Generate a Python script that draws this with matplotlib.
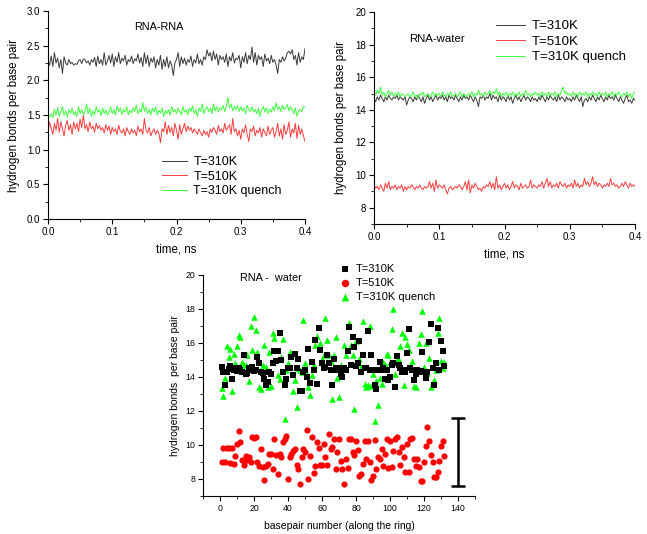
import numpy as np
import matplotlib
matplotlib.use("Agg")
import matplotlib.pyplot as plt
from matplotlib.ticker import MultipleLocator

plt.rcParams['font.family'] = ['Liberation Sans', 'DejaVu Sans']

# ---------------- data ----------------
time_ns = np.linspace(0.0, 0.4, 161)

rr_310 = [2.28, 2.22, 2.35, 2.20, 2.40, 2.25, 2.32, 2.18, 2.30, 2.10, 2.34, 2.25, 2.22, 2.30, 2.24, 2.26, 2.22, 2.24, 2.23, 2.28,
          2.30, 2.24, 2.31, 2.30, 2.25, 2.28, 2.22, 2.30, 2.26, 2.33, 2.20, 2.35, 2.24, 2.30, 2.22, 2.40, 2.22, 2.28, 2.36, 2.25,
          2.38, 2.20, 2.34, 2.26, 2.40, 2.24, 2.32, 2.28, 2.36, 2.22, 2.30, 2.27, 2.35, 2.24, 2.31, 2.28, 2.38, 2.25, 2.33, 2.20,
          2.40, 2.24, 2.36, 2.20, 2.32, 2.26, 2.34, 2.18, 2.30, 2.22, 2.36, 2.16, 2.30, 2.20, 2.34, 2.18, 2.28, 2.22, 2.07, 2.25,
          2.30, 2.40, 2.20, 2.34, 2.24, 2.32, 2.22, 2.30, 2.26, 2.35, 2.20, 2.30, 2.25, 2.38, 2.24, 2.30, 2.22, 2.34, 2.30, 2.44,
          2.35, 2.40, 2.28, 2.42, 2.30, 2.38, 2.22, 2.36, 2.30, 2.34, 2.26, 2.38, 2.20, 2.34, 2.28, 2.40, 2.25, 2.32, 2.30, 2.36,
          2.18, 2.34, 2.26, 2.40, 2.24, 2.36, 2.30, 2.48, 2.26, 2.40, 2.22, 2.36, 2.30, 2.34, 2.20, 2.38, 2.28, 2.32, 2.24, 2.36,
          2.26, 2.30, 2.22, 2.10, 2.30, 2.26, 2.34, 2.28, 2.32, 2.40, 2.42, 2.38, 2.44, 2.30, 2.36, 2.22, 2.40, 2.26, 2.34, 2.30, 2.46]

rr_510 = [1.25, 1.40, 1.30, 1.22, 1.38, 1.28, 1.45, 1.25, 1.40, 1.30, 1.20, 1.35, 1.42, 1.28, 1.36, 1.22, 1.40, 1.30, 1.38, 1.26,
          1.44, 1.32, 1.50, 1.30, 1.36, 1.26, 1.40, 1.30, 1.34, 1.25, 1.38, 1.30, 1.35, 1.28, 1.32, 1.24, 1.36, 1.28, 1.34, 1.22,
          1.32, 1.26, 1.30, 1.22, 1.35, 1.27, 1.24, 1.30, 1.20, 1.32, 1.26, 1.22, 1.30, 1.24, 1.28, 1.20, 1.34, 1.26, 1.30, 1.22,
          1.45, 1.28, 1.24, 1.32, 1.20, 1.26, 1.30, 1.22, 1.28, 1.24, 1.10, 1.30, 1.26, 1.40, 1.22, 1.35, 1.25, 1.32, 1.20, 1.38,
          1.28, 1.15, 1.36, 1.22, 1.30, 1.38, 1.26, 1.34, 1.28, 1.32, 1.24, 1.30, 1.26, 1.22, 1.30, 1.24, 1.20, 1.28, 1.22, 1.26,
          1.18, 1.30, 1.25, 1.32, 1.28, 1.22, 1.35, 1.26, 1.30, 1.24, 1.38, 1.28, 1.32, 1.36, 1.22, 1.45, 1.26, 1.30, 1.20, 1.28,
          1.15, 1.30, 1.24, 1.36, 1.22, 1.12, 1.30, 1.26, 1.34, 1.20, 1.28, 1.24, 1.32, 1.18, 1.30, 1.25, 1.20, 1.34, 1.22, 1.28,
          1.32, 1.18, 1.26, 1.38, 1.20, 1.30, 1.15, 1.36, 1.22, 1.28, 1.40, 1.18, 1.30, 1.24, 1.38, 1.16, 1.35, 1.22, 1.30, 1.20, 1.12]

rr_310q = [1.45, 1.48, 1.52, 1.46, 1.58, 1.50, 1.60, 1.48, 1.55, 1.62, 1.50, 1.56, 1.47, 1.58, 1.52, 1.60, 1.50, 1.55, 1.48, 1.62,
           1.52, 1.58, 1.50, 1.55, 1.66, 1.52, 1.60, 1.48, 1.56, 1.50, 1.62, 1.54, 1.58, 1.49, 1.60, 1.52, 1.57, 1.50, 1.55, 1.62,
           1.52, 1.58, 1.50, 1.63, 1.55, 1.60, 1.51, 1.58, 1.54, 1.62, 1.50, 1.57, 1.53, 1.60, 1.55, 1.64, 1.52, 1.58, 1.54, 1.68,
           1.55, 1.62, 1.52, 1.58, 1.50, 1.60, 1.54, 1.62, 1.50, 1.57, 1.53, 1.60, 1.48, 1.56, 1.52, 1.58, 1.50, 1.62, 1.54, 1.58,
           1.52, 1.60, 1.55, 1.50, 1.62, 1.54, 1.58, 1.50, 1.60, 1.55, 1.63, 1.52, 1.58, 1.48, 1.60, 1.55, 1.66, 1.52, 1.58, 1.62,
           1.55, 1.60, 1.52, 1.66, 1.56, 1.62, 1.54, 1.60, 1.58, 1.64, 1.55, 1.62, 1.75, 1.60, 1.66, 1.56, 1.62, 1.58, 1.64, 1.55,
           1.62, 1.56, 1.60, 1.52, 1.64, 1.58, 1.55, 1.62, 1.54, 1.58, 1.52, 1.60, 1.48, 1.58, 1.62, 1.55, 1.60, 1.52, 1.58, 1.54,
           1.62, 1.56, 1.68, 1.58, 1.62, 1.55, 1.64, 1.58, 1.60, 1.65, 1.56, 1.62, 1.58, 1.52, 1.60, 1.48, 1.56, 1.58, 1.55, 1.62, 1.61]

rw_310 = [14.7, 14.5, 14.8, 14.6, 14.9, 14.7, 14.5, 14.8, 14.6, 14.9, 14.7, 14.6, 14.8, 14.7, 14.9, 14.6, 14.8, 14.7, 14.6, 14.8,
          14.3, 14.6, 14.8, 14.7, 14.5, 14.8, 14.6, 14.9, 14.7, 14.5, 14.8, 14.4, 14.7, 14.9, 14.6, 14.8, 14.5, 14.7, 14.9, 14.6,
          14.8, 14.7, 14.9, 14.6, 14.8, 14.5, 14.9, 14.7, 14.8, 14.6, 14.9, 14.7, 14.5, 14.8, 14.6, 14.9, 14.7, 14.8, 14.6, 14.9,
          14.7, 14.5, 14.8, 14.6, 14.2, 14.8, 14.7, 14.9, 14.6, 14.8, 14.7, 15.0, 14.6, 14.9, 14.7, 14.8, 14.5, 14.9, 14.6, 14.8,
          14.7, 14.5, 14.9, 14.6, 14.8, 14.4, 14.7, 14.9, 14.6, 14.8, 14.5, 14.7, 14.9, 14.6, 14.8, 14.7, 14.5, 14.8, 14.6, 14.7,
          14.5, 14.8, 14.6, 14.9, 14.7, 14.5, 14.8, 14.6, 14.9, 14.7, 14.6, 14.8, 14.5, 14.9, 14.6, 14.8, 14.7, 14.5, 14.8, 14.6,
          14.7, 14.5, 14.8, 14.6, 14.9, 14.7, 14.5, 14.8, 14.2, 14.6, 14.7, 14.5, 14.8, 14.6, 14.9, 14.7, 14.5, 14.8, 14.6, 14.9,
          14.7, 14.5, 14.8, 14.6, 14.9, 14.7, 14.8, 14.6, 14.9, 14.7, 14.5, 14.8, 14.6, 14.4, 14.7, 14.9, 14.5, 14.6, 14.4, 14.7, 14.6]

rw_510 = [9.4, 9.2, 9.3, 9.1, 9.4, 9.2, 9.0, 9.5, 9.2, 9.6, 9.1, 9.3, 9.2, 9.4, 9.1, 9.3, 9.2, 9.4, 9.0, 9.3,
          9.1, 9.3, 9.2, 9.4, 9.3, 9.1, 9.3, 9.2, 9.4, 9.2, 9.1, 9.3, 9.2, 9.3, 9.6, 9.2, 9.5, 9.0, 9.7, 9.2,
          9.4, 9.3, 9.2, 9.4, 9.1, 8.85, 9.2, 9.3, 9.1, 9.2, 9.3, 9.2, 9.4, 9.3, 9.1, 9.3, 9.6, 9.1, 9.7, 8.9,
          9.4, 9.2, 9.5, 9.3, 9.1, 9.2, 9.0, 9.3, 9.2, 9.4, 9.3, 9.6, 9.2, 9.5, 9.1, 9.9, 9.2, 9.4, 9.1, 9.3,
          9.5, 9.2, 9.4, 9.1, 9.3, 9.6, 9.2, 9.4, 9.3, 9.1, 9.5, 9.2, 9.3, 9.4, 9.2, 9.3, 9.7, 9.2, 9.4, 9.3,
          9.2, 9.4, 9.3, 9.6, 9.2, 9.5, 9.8, 9.3, 9.6, 9.2, 9.4, 9.3, 9.5, 9.2, 9.6, 9.4, 9.3, 9.5, 9.2, 9.4,
          9.3, 9.5, 9.2, 9.7, 9.3, 9.5, 9.2, 9.4, 9.3, 9.8, 9.4, 9.6, 9.3, 9.5, 9.9, 9.4, 9.6, 9.3, 9.5, 9.4,
          9.2, 9.4, 9.3, 9.5, 9.3, 9.8, 9.4, 9.5, 9.3, 9.4, 9.2, 9.3, 9.5, 9.3, 9.6, 9.4, 9.2, 9.5, 9.3, 9.4, 9.3]

rw_310q = [15.1, 14.9, 15.2, 15.0, 15.4, 14.9, 15.1, 14.8, 15.0, 15.2, 14.9, 15.1, 14.8, 15.0, 14.9, 15.1, 14.8, 15.0, 14.9, 14.8,
           14.9, 15.0, 14.8, 14.9, 15.1, 14.8, 14.9, 14.7, 15.0, 14.9, 15.1, 14.8, 14.9, 15.0, 14.8, 14.9, 15.1, 14.8, 15.0, 14.9,
           15.0, 14.8, 15.1, 14.9, 14.8, 15.0, 14.9, 15.1, 14.8, 14.9, 15.0, 14.8, 14.9, 15.1, 14.8, 15.0, 14.9, 14.8, 15.0, 14.9,
           15.1, 14.8, 15.0, 14.9, 15.2, 14.9, 15.0, 14.8, 15.1, 14.9, 15.0, 15.2, 14.9, 15.1, 15.0, 15.3, 14.9, 15.1, 14.8, 15.0,
           14.9, 15.1, 14.8, 15.0, 14.9, 15.1, 14.8, 15.0, 14.9, 15.1, 14.8, 15.0, 14.9, 15.2, 14.9, 15.0, 14.8, 15.0, 14.9, 15.1,
           14.9, 15.0, 14.8, 15.1, 14.9, 15.0, 14.8, 15.1, 14.9, 15.0, 14.9, 15.1, 14.8, 15.0, 14.9, 15.2, 15.4, 15.0, 15.1, 14.9,
           15.0, 14.8, 15.1, 14.9, 15.0, 14.8, 15.1, 14.9, 15.0, 14.9, 15.1, 14.8, 15.0, 14.9, 15.1, 14.9, 15.0, 14.8, 15.1, 14.9,
           15.0, 14.9, 15.1, 14.8, 15.0, 14.9, 15.1, 14.8, 15.0, 14.9, 15.1, 14.9, 14.8, 15.0, 14.9, 15.1, 14.8, 15.0, 14.7, 15.0, 15.1]

basepair = np.arange(1, 133)

bp_310 = [14.6, 14.3, 13.5, 14.3, 14.45, 14.65, 13.86, 14.4, 14.5, 14.35,
          14.5, 14.4, 14.3, 15.28, 14.2, 14.26, 14.5, 14.4, 14.6, 14.33,
          14.4, 15.18, 14.8, 14.3, 14.25, 13.86, 13.5, 13.7, 14.3, 14.2,
          14.8, 15.5, 14.95, 15.5, 16.56, 15.0, 14.3, 13.5, 13.9, 14.5,
          14.5, 15.18, 14.13, 15.38, 14.5, 15.08, 13.2, 13.2, 14.3, 14.4,
          14.0, 15.67, 13.64, 14.9, 14.4, 16.2, 13.6, 16.9, 15.57, 14.8,
          14.5, 14.6, 15.28, 14.8, 14.43, 13.5, 15.08, 14.5, 14.4, 14.53,
          14.2, 14.0, 14.5, 14.4, 15.5, 16.95, 14.7, 16.36, 15.77, 14.63,
          14.85, 16.1, 14.3, 15.32, 14.5, 14.5, 16.7, 14.4, 15.32, 14.4,
          13.55, 13.27, 14.4, 14.9, 14.4, 14.53, 13.9, 14.43, 13.8, 14.0,
          14.7, 14.8, 13.4, 15.22, 14.7, 14.5, 14.3, 14.4, 14.3, 15.42,
          16.8, 14.5, 14.4, 13.8, 14.2, 14.4, 14.3, 14.33, 15.48, 14.3,
          13.94, 14.3, 16.03, 17.1, 14.5, 13.5, 14.8, 16.9, 14.43, 16.1, 15.5, 14.65]

bp_510 = [8.98, 9.81, 9.02, 9.81, 9.81, 8.94, 9.81, 8.88, 9.38, 10.06,
          10.8, 10.16, 9.14, 8.83, 9.38, 9.14, 9.28, 8.98, 10.46, 10.4,
          10.46, 8.98, 8.75, 9.77, 8.69, 7.96, 8.79, 8.88, 9.48, 9.48,
          8.59, 10.36, 9.42, 8.3, 9.48, 9.32, 10.16, 10.36, 10.52, 8.0,
          9.32, 9.48, 9.67, 9.77, 8.83, 8.59, 7.7, 9.28, 9.77, 9.57,
          10.91, 8.0, 9.38, 10.46, 8.35, 8.79, 10.16, 9.81, 8.83, 8.83,
          10.06, 9.28, 8.83, 10.65, 9.77, 9.87, 10.36, 8.59, 9.57, 10.36,
          9.08, 8.59, 7.7, 9.18, 8.63, 10.36, 10.36, 9.57, 9.42, 10.26,
          9.71, 8.2, 8.3, 8.88, 10.26, 9.18, 10.26, 9.02, 7.96, 8.2,
          10.3, 8.59, 9.28, 9.18, 9.77, 8.79, 9.48, 10.36, 8.63, 10.26,
          8.69, 9.67, 10.36, 10.46, 9.61, 8.83, 9.87, 9.28, 8.43, 10.06,
          8.39, 10.36, 10.4, 9.18, 8.79, 9.18, 8.69, 7.9, 7.9, 8.98,
          9.96, 11.04, 10.26, 9.42, 8.98, 8.1, 8.1, 8.43, 9.08, 9.96, 10.26, 9.38]

bp_310q = [13.35, 12.9, 13.95, 15.83, 15.18, 15.63, 13.2, 15.38, 14.8, 15.83,
           16.46, 16.36, 14.9, 14.7, 14.7, 15.28, 13.74, 16.99, 15.57, 17.5,
           16.75, 15.48, 13.41, 13.31, 14.7, 15.9, 14.6, 13.41, 15.48, 13.45,
           16.6, 16.3, 15.57, 14.1, 13.86, 15.2, 16.26, 11.54, 14.4, 14.8,
           15.48, 15.38, 13.2, 13.8, 12.23, 14.53, 14.4, 14.3, 17.38, 14.85,
           14.2, 13.41, 12.96, 14.1, 14.7, 15.9, 16.4, 15.7, 16.0, 15.08,
           15.28, 17.48, 16.16, 15.32, 14.92, 12.68, 15.28, 16.36, 13.95, 12.82,
           14.7, 14.5, 15.9, 15.28, 17.05, 17.2, 15.87, 15.28, 12.13, 16.1,
           14.8, 15.08, 14.6, 17.29, 13.6, 13.4, 13.55, 17.0, 13.45, 14.2,
           11.44, 13.74, 12.33, 13.95, 13.6, 14.9, 14.7, 15.38, 15.28, 14.9,
           16.8, 17.99, 14.2, 15.08, 14.98, 15.83, 16.56, 13.55, 16.36, 15.97,
           15.57, 14.6, 14.92, 13.47, 13.41, 14.4, 16.0, 16.5, 17.88, 14.6,
           16.0, 14.26, 15.12, 13.41, 13.7, 13.8, 14.4, 16.6, 17.48, 14.92, 14.5, 14.9]

err_x = 140
err_center = 9.57
err_half = 2.0

labels = ['T=310K', 'T=510K', 'T=310K quench']
line_colors = ['#3a3a3a', '#ff3c3c', '#3cff3c']
ylab = 'hydrogen bonds per base pair'

# ---------------- figure ----------------
W, H = 647, 534
fig = plt.figure(figsize=(W / 100, H / 100), dpi=100)


def px_axes(l, r, t, b):
    return fig.add_axes([l / W, 1 - b / H, (r - l) / W, (b - t) / H])


def style(ax, fs=7.0):
    for s in ['top', 'right']:
        ax.spines[s].set_visible(False)
    for s in ['left', 'bottom']:
        ax.spines[s].set_linewidth(0.8)
    ax.tick_params(which='major', direction='out', length=3.5, width=0.8, labelsize=fs, pad=2)
    ax.tick_params(which='minor', direction='out', length=2, width=0.6)


# Top-left: RNA-RNA
ax1 = px_axes(48, 305, 11, 219)
for y, c, lab in zip([rr_310, rr_510, rr_310q], line_colors, labels):
    ax1.plot(time_ns, y, color=c, lw=0.7, label=lab)
ax1.set_xlim(0, 0.4)
ax1.set_ylim(0, 3.0)
ax1.xaxis.set_major_locator(MultipleLocator(0.1))
ax1.xaxis.set_minor_locator(MultipleLocator(0.05))
ax1.yaxis.set_major_locator(MultipleLocator(0.5))
ax1.yaxis.set_minor_locator(MultipleLocator(0.25))
style(ax1)
ax1.set_xlabel('time, ns', fontsize=8.3, labelpad=5)
ax1.set_ylabel(ylab, fontsize=8.3, labelpad=5)
ax1.text(159 / W, 1 - 27 / H, 'RNA-RNA', transform=fig.transFigure, fontsize=7.8,
         ha='center', va='center')
ax1.legend(loc='upper left', bbox_to_anchor=(162 / W, 1 - 156 / H), bbox_transform=fig.transFigure,
           frameon=False, fontsize=9, handlelength=2.0, handletextpad=0.5, labelspacing=0.2,
           borderpad=0, borderaxespad=0)

# Top-right: RNA-water
ax2 = px_axes(374, 635, 12, 224)
for y, c, lab in zip([rw_310, rw_510, rw_310q], line_colors, labels):
    ax2.plot(time_ns, y, color=c, lw=0.7, label=lab)
ax2.set_xlim(0, 0.4)
ax2.set_ylim(7, 20)
ax2.xaxis.set_major_locator(MultipleLocator(0.1))
ax2.xaxis.set_minor_locator(MultipleLocator(0.05))
ax2.yaxis.set_major_locator(MultipleLocator(2))
ax2.yaxis.set_minor_locator(MultipleLocator(1))
style(ax2)
ax2.set_xlabel('time, ns', fontsize=8.3, labelpad=5)
ax2.set_ylabel(ylab, fontsize=8.3, labelpad=6)
ax2.text(437 / W, 1 - 39 / H, 'RNA-water', transform=fig.transFigure, fontsize=8.2,
         ha='center', va='center')
ax2.legend(loc='upper left', bbox_to_anchor=(496 / W, 1 - 20 / H), bbox_transform=fig.transFigure,
           frameon=False, fontsize=9.5, handlelength=2.2, handletextpad=0.5, labelspacing=0.25,
           borderpad=0, borderaxespad=0)

# Bottom: scatter
ax3 = px_axes(203, 475, 275, 496)
ax3.scatter(basepair, bp_310, marker='s', s=14, color='black', lw=0, label=labels[0], zorder=3)
ax3.scatter(basepair, bp_510, marker='o', s=20, color='#ff0000', lw=0, label=labels[1], zorder=3)
ax3.scatter(basepair, bp_310q, marker='^', s=22, color='#00ff00', lw=0, label=labels[2], zorder=2)
ax3.errorbar([err_x], [err_center], yerr=[err_half], fmt='none', ecolor='black',
             elinewidth=1.8, capsize=5, capthick=1.8)
ax3.set_xlim(-10, 150)
ax3.set_ylim(7, 20)
ax3.set_xticks([0, 20, 40, 60, 80, 100, 120, 140])
ax3.xaxis.set_minor_locator(MultipleLocator(10))
ax3.yaxis.set_major_locator(MultipleLocator(2))
ax3.yaxis.set_minor_locator(MultipleLocator(1))
style(ax3, fs=6.3)
ax3.set_xlabel('basepair number (along the ring)', fontsize=7.5, labelpad=6)
ax3.set_ylabel('hydrogen bonds  per base pair', fontsize=7.5, labelpad=4)
ax3.text(271 / W, 1 - 278 / H, 'RNA -  water', transform=fig.transFigure, fontsize=7.8,
         ha='center', va='center')
ax3.legend(loc='upper left', bbox_to_anchor=(339 / W, 1 - 264 / H), bbox_transform=fig.transFigure,
           frameon=False, fontsize=8, handlelength=1.0, handletextpad=0.5, labelspacing=0.35,
           borderpad=0, borderaxespad=0, scatterpoints=1, markerscale=1.2)

fig.savefig('out.png', dpi=100)
